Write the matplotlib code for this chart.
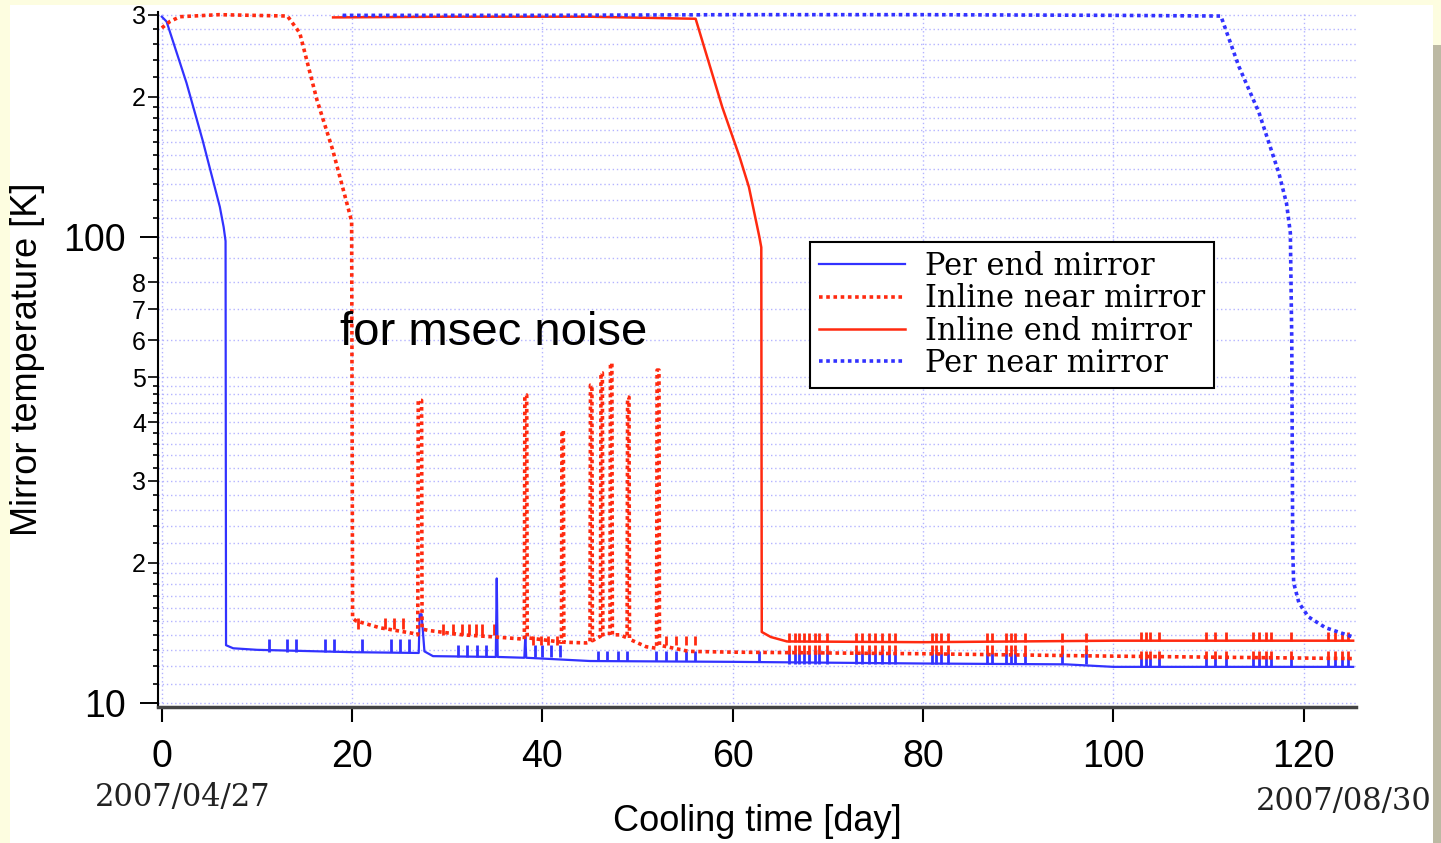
import numpy as np
import matplotlib.pyplot as plt
from matplotlib.patches import Rectangle
from matplotlib.ticker import FixedLocator, FixedFormatter

# === data (day, K) ===
# Per end mirror (blue solid)
per_end_day = [0.0, 0.5, 2.6, 4.3, 6.1, 6.5, 6.7, 6.75, 7.5, 10.0, 20.0, 27.0, 27.1, 27.3, 27.6,
               28.5, 35.1, 35.2, 35.3, 38.1, 38.2, 38.3, 40.0, 45.0, 60.0, 80.0, 95.0, 100.0, 125.2]
per_end_temp = [297, 290, 214, 161, 116, 105, 98, 13.3, 13.1, 13.0, 12.85, 12.8, 15.5, 15.5, 12.9,
                12.6, 12.55, 18.5, 12.55, 12.5, 13.9, 12.5, 12.45, 12.3, 12.25, 12.15, 12.1, 11.95, 11.95]

# Inline near mirror (red dotted)
inline_near_day = [0.0, 0.85, 1.9, 6.0, 13.2, 14.5, 16.3, 17.95, 19.7, 19.95, 20.05, 20.4, 22.9,
                   26.4, 26.9, 26.95, 27.3, 27.35, 28.1, 31.6, 35.1, 38.1, 38.15, 38.35, 38.4,
                   42.0, 42.05, 42.2, 42.25, 44.6, 45.0, 45.05, 45.2, 45.25, 46.1, 46.15, 46.3,
                   46.35, 46.7, 47.1, 47.15, 47.3, 47.35, 48.1, 48.9, 48.95, 49.1, 49.15, 50.9,
                   52.0, 52.05, 52.25, 52.3, 55.4, 60.0, 80.0, 100.0, 125.2]
inline_near_temp = [281, 290, 297, 300, 298, 274, 197, 154, 113, 108, 15.2, 15.0, 14.5,
                    14.1, 14.0, 44.6, 44.6, 14.4, 14.3, 14.0, 13.85, 13.7, 45.8, 45.8, 13.8,
                    13.5, 38.4, 38.4, 13.5, 13.45, 13.5, 48.1, 48.1, 13.6, 13.9, 51.1, 51.1,
                    14.0, 14.1, 14.1, 53.6, 53.6, 14.0, 14.0, 13.8, 45.3, 45.3, 13.7, 13.2,
                    13.1, 51.8, 51.8, 13.3, 12.9, 12.85, 12.75, 12.6, 12.45]

# Inline end mirror (red solid)
inline_end_day = [18.0, 30.0, 45.0, 56.1, 58.9, 60.7, 61.7, 62.8, 63.0, 63.05, 64.0, 65.7, 80.0, 100.0, 125.2]
inline_end_temp = [296, 297, 297, 294, 190, 149, 128, 100, 95, 14.2, 13.85, 13.55, 13.5, 13.6, 13.6]

# Per near mirror (blue dotted)
per_near_day = [19.0, 40.0, 60.0, 80.0, 100.0, 111.3, 113.2, 115.3, 117.4, 118.2, 118.6, 118.75,
                118.85, 118.95, 119.5, 120.5, 122.3, 125.2]
per_near_temp = [299, 299, 300, 300, 299, 298, 232, 185, 137, 118, 102, 60,
                 21.3, 18.1, 16.4, 15.3, 14.5, 13.85]

# small cooler bumps (day), with foot / top temperature of each group
per_end_bumps_a = [11.3, 13.2, 14.1, 17.2, 18.1, 21.0, 24.1, 25.0, 26.0]            # 12.85 -> 13.7
per_end_bumps_b = [31.1, 32.1, 33.1, 34.1, 39.2, 40.0, 40.9, 41.8]                  # 12.55 -> 13.3
per_end_bumps_c = [45.8, 46.8, 47.9, 48.9, 51.9, 53.0, 54.0, 55.1, 56.0, 62.8]      # 12.3 -> 12.95
near_bumps_a = [20.6, 23.5, 24.4, 25.3]                                             # 14.4 -> 15.2
near_bumps_b = [29.5, 30.6, 31.5, 32.3, 33.0, 33.6, 34.9]                           # 14.0 -> 14.8
near_bumps_c = [39.0, 39.8, 40.6, 41.5, 53.0, 54.0, 55.1, 56.0]                     # 13.3 -> 13.9
late_events = [65.9, 66.5, 67.0, 67.5, 68.0, 68.6, 69.1, 69.9, 73.0, 73.6, 74.3, 75.0, 75.7,
               76.4, 77.1, 80.9, 81.4, 81.9, 82.6, 86.7, 87.2, 88.7, 89.2, 89.7, 90.7, 94.6, 97.1]
end_events = [102.9, 103.4, 103.9, 104.8, 109.7, 110.7, 111.8, 114.7, 115.3, 116.0, 116.6,
              118.7, 122.6, 123.3, 124.0, 124.7]

series_labels = ["Per end mirror", "Inline near mirror", "Inline end mirror", "Per near mirror"]

y_major = [10, 100]
y_major_labels = ["10", "100"]
y_minor = [11, 12, 13, 14, 15, 16, 17, 18, 19, 20, 22, 24, 26, 28, 30, 32, 34, 36, 38, 40,
           42, 44, 46, 48, 50, 60, 70, 80, 90, 110, 120, 130, 140, 150, 160, 170, 180, 190,
           200, 220, 240, 260, 280, 300]
y_minor_labels = {20: "2", 30: "3", 40: "4", 50: "5", 60: "6", 70: "7", 80: "8", 200: "2", 300: "3"}
x_ticks = [0, 20, 40, 60, 80, 100, 120]

BLUE = '#3232ff'
RED = '#ff2a10'
DOT = (0, (1, 1))

fig = plt.figure(figsize=(14.41, 8.43), dpi=100)
fig.patch.set_facecolor('#fdfde0')
fig.add_artist(Rectangle((10 / 1441, 0), 1423 / 1441, 1 - 5 / 843, transform=fig.transFigure,
                         facecolor='white', edgecolor='none', zorder=-10))
fig.add_artist(Rectangle((1433 / 1441, 0), 8 / 1441, 1 - 45 / 843, transform=fig.transFigure,
                         facecolor='#bcb9a3', edgecolor='none', zorder=-10))

ax = fig.add_axes([158 / 1441, 1 - 707 / 843, 1198 / 1441, 695 / 843])
ax.set_yscale('log')

# bumps first, lines on top
ax.vlines(per_end_bumps_a, 12.85, 13.7, colors=BLUE, lw=2)
ax.vlines(per_end_bumps_b, 12.55, 13.3, colors=BLUE, lw=2)
ax.vlines(per_end_bumps_c, 12.3, 12.95, colors=BLUE, lw=2)
ax.vlines(late_events, 12.15, 12.8, colors=BLUE, lw=2)
ax.vlines(end_events, 11.95, 12.5, colors=BLUE, lw=2)
ax.vlines(near_bumps_a, 14.4, 15.2, colors=RED, lw=2)
ax.vlines(near_bumps_b, 14.0, 14.8, colors=RED, lw=2)
ax.vlines(near_bumps_c, 13.3, 13.9, colors=RED, lw=2)
ax.vlines(late_events, 12.75, 13.3, colors=RED, lw=2)
ax.vlines(end_events, 12.45, 12.95, colors=RED, lw=2)
ax.vlines(late_events, 13.5, 14.15, colors=RED, lw=2)
ax.vlines(end_events, 13.6, 14.2, colors=RED, lw=2)

ax.plot(per_end_day, per_end_temp, color=BLUE, lw=1.6, label=series_labels[0])
ax.plot(inline_near_day, inline_near_temp, color=RED, lw=2.6, ls=DOT, label=series_labels[1])
ax.plot(inline_end_day, inline_end_temp, color=RED, lw=1.8, label=series_labels[2])
ax.plot(per_near_day, per_near_temp, color=BLUE, lw=2.6, ls=DOT, label=series_labels[3])

ax.set_xlim(-0.4, 125.5)
ax.set_ylim(9.8, 304)

ax.yaxis.set_major_locator(FixedLocator(y_major))
ax.yaxis.set_major_formatter(FixedFormatter(y_major_labels))
ax.yaxis.set_minor_locator(FixedLocator(y_minor))
ax.yaxis.set_minor_formatter(FixedFormatter([y_minor_labels.get(v, "") for v in y_minor]))
ax.set_xticks(x_ticks)
ax.set_xticklabels([str(v) for v in x_ticks])

ax.tick_params(axis='y', which='major', direction='out', length=13, width=1.4, pad=10, labelsize=27)
ax.tick_params(axis='y', which='minor', direction='out', length=3.6, width=1.2, pad=5, labelsize=18)
ax.tick_params(axis='x', which='major', direction='out', length=11, width=1.5, pad=12, labelsize=27)
for tick, v in zip(ax.yaxis.get_minor_ticks(), y_minor):
    if v in y_minor_labels:
        tick.tick1line.set_markersize(7)
for lab in ax.get_xticklabels() + ax.get_yticklabels() + ax.get_yticklabels(minor=True):
    lab.set_family('Liberation Sans')

grid_kw = dict(color='#b4b4ff', linestyle=(0, (1, 2)), lw=1)
ax.grid(which='both', axis='y', **grid_kw)
ax.grid(which='major', axis='x', **grid_kw)
ax.set_axisbelow(True)

for s in ('top', 'right'):
    ax.spines[s].set_visible(False)
ax.spines['left'].set_linewidth(1.5)
ax.spines['bottom'].set_linewidth(2.5)
ax.spines['bottom'].set_color('#444444')

ax.set_xlabel("Cooling time [day]", fontsize=26, family='Liberation Sans', labelpad=21)
ax.set_ylabel("Mirror temperature [K]", fontsize=26, family='Liberation Sans', labelpad=13)

ax.text(18.7, 58.6, "for msec noise", fontsize=34, family='Liberation Sans', va='baseline')

fig.text(95 / 1441, 1 - 806 / 843, "2007/04/27", fontsize=22, family='DejaVu Serif',
         va='baseline', ha='left', color='#222222')
fig.text(1432 / 1441, 1 - 810 / 843, "2007/08/30", fontsize=22, family='DejaVu Serif',
         va='baseline', ha='right', color='#222222')

leg = ax.legend(loc='upper left', bbox_to_anchor=((810 - 158) / 1198, (707 - 242) / 695),
                borderaxespad=0, prop={'family': 'DejaVu Serif', 'size': 22},
                handlelength=2.8, handletextpad=0.65, labelspacing=0.04, borderpad=0.3,
                fancybox=False, framealpha=1)
leg.get_frame().set_edgecolor('black')
leg.get_frame().set_linewidth(1.5)

fig.savefig("out.png", dpi=100, facecolor=fig.get_facecolor())
